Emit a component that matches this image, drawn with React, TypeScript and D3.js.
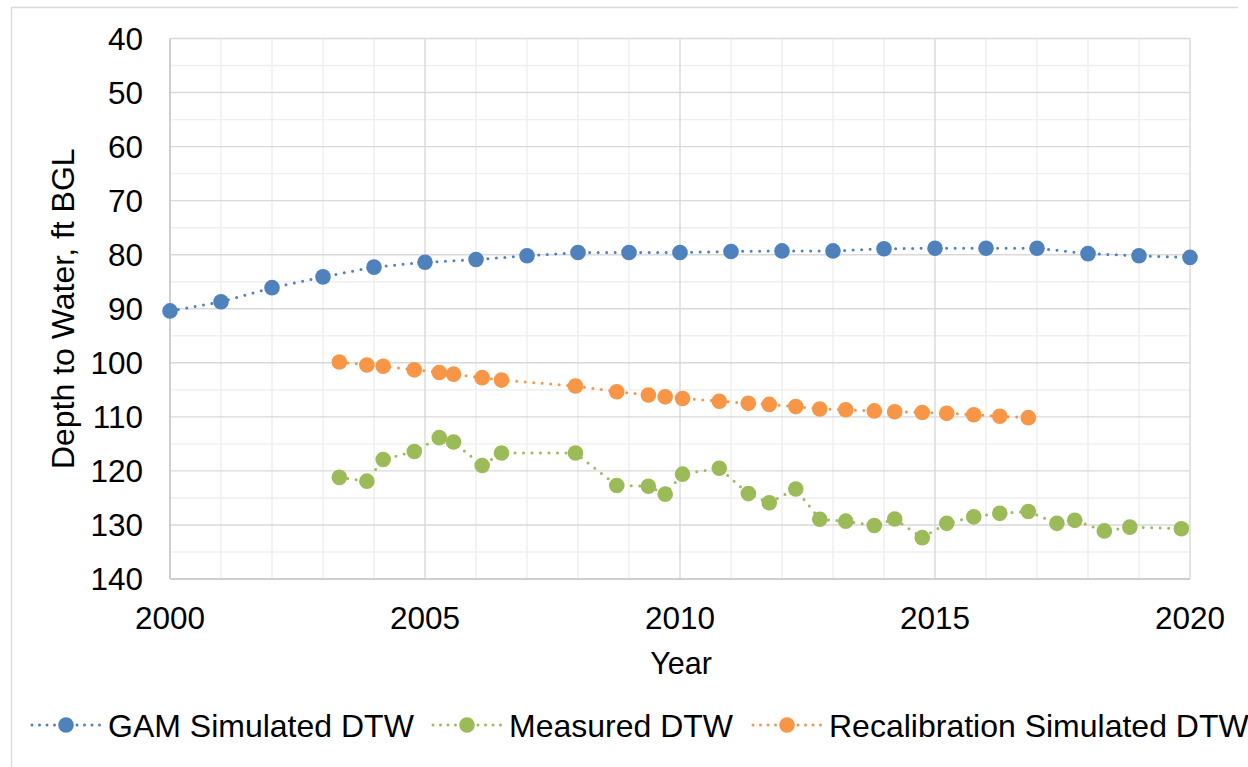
import React from "react";
import * as d3 from "d3";

const gamYears = [2000, 2001, 2002, 2003, 2004, 2005, 2006, 2007, 2008, 2009, 2010, 2011, 2012, 2013, 2014, 2015, 2016, 2017, 2018, 2019, 2020];
const gamDTW = [90.4, 88.7, 86.1, 84.1, 82.3, 81.4, 80.9, 80.2, 79.6, 79.6, 79.6, 79.4, 79.3, 79.3, 78.9, 78.8, 78.8, 78.8, 79.8, 80.2, 80.5];

const recalDates = [2003.32, 2003.86, 2004.18, 2004.79, 2005.28, 2005.56, 2006.12, 2006.5, 2007.95, 2008.76, 2009.38, 2009.71, 2010.05, 2010.77, 2011.34, 2011.75, 2012.27, 2012.74, 2013.25, 2013.81, 2014.21, 2014.75, 2015.23, 2015.76, 2016.27, 2016.83];
const recalDTW = [99.85, 100.4, 100.65, 101.3, 101.8, 102.1, 102.75, 103.2, 104.3, 105.35, 105.95, 106.3, 106.6, 107.1, 107.5, 107.7, 108.1, 108.55, 108.7, 108.9, 109.05, 109.2, 109.35, 109.6, 109.9, 110.15];

const measuredDates = [2003.32, 2003.86, 2004.18, 2004.79, 2005.28, 2005.56, 2006.12, 2006.5, 2007.95, 2008.76, 2009.38, 2009.71, 2010.05, 2010.77, 2011.34, 2011.75, 2012.27, 2012.74, 2013.25, 2013.81, 2014.21, 2014.75, 2015.23, 2015.76, 2016.27, 2016.83, 2017.39, 2017.74, 2018.32, 2018.82, 2019.83];
const measuredDTW = [121.2, 121.9, 117.9, 116.4, 113.85, 114.65, 119.0, 116.7, 116.7, 122.7, 122.85, 124.3, 120.6, 119.5, 124.2, 125.9, 123.35, 128.95, 129.3, 130.1, 128.9, 132.35, 129.7, 128.5, 127.85, 127.5, 129.7, 129.15, 131.1, 130.4, 130.7];

const xTicks = [2000, 2005, 2010, 2015, 2020];
const yTicks = [40, 50, 60, 70, 80, 90, 100, 110, 120, 130, 140];
const seriesNames = ["GAM Simulated DTW", "Measured DTW", "Recalibration Simulated DTW"];
const seriesColors = ["#4f81bd", "#9bbb59", "#f79646"];

const FONT = "'Liberation Sans', Arial, sans-serif";

export default function App() {
  const W = 1248, H = 767;
  const x = d3.scaleLinear().domain([2000, 2020]).range([170, 1190]);
  const y = d3.scaleLinear().domain([40, 140]).range([38.5, 579]);

  const minorX = d3.range(2000, 2021, 1).filter((v) => v % 5 !== 0);
  const minorY = d3.range(45, 140, 10);

  const series = [
    { xs: gamYears, ys: gamDTW },
    { xs: measuredDates, ys: measuredDTW },
    { xs: recalDates, ys: recalDTW },
  ];

  const line = d3
    .line<[number, number]>()
    .x((d) => x(d[0]))
    .y((d) => y(d[1]));

  const legendX = [31, 432, 752];
  const R = 7.8;

  return (
    <svg width={W} height={H} style={{ position: "absolute", left: 0, top: 0, background: "#fff" }} fontFamily={FONT}>
      <rect x={0} y={0} width={W} height={H} fill="#fff" />
      <path d={`M11.5,${H} V7.5 H1238`} fill="none" stroke="#d9d9d9" strokeWidth={1.3} />
      {minorX.map((v) => (
        <line key={"mx" + v} x1={x(v)} x2={x(v)} y1={y(40)} y2={y(140)} stroke="#eeeeee" strokeWidth={1.4} />
      ))}
      {minorY.map((v) => (
        <line key={"my" + v} x1={x(2000)} x2={x(2020)} y1={y(v)} y2={y(v)} stroke="#eeeeee" strokeWidth={1.4} />
      ))}
      {xTicks.map((v) => (
        <line key={"gx" + v} x1={x(v)} x2={x(v)} y1={y(40)} y2={y(140)} stroke="#d9d9d9" strokeWidth={1.4} />
      ))}
      {yTicks.map((v) => (
        <line key={"gy" + v} x1={x(2000)} x2={x(2020)} y1={y(v)} y2={y(v)} stroke="#d9d9d9" strokeWidth={1.4} />
      ))}
      <line x1={x(2000)} x2={x(2000)} y1={y(40)} y2={y(140)} stroke="#c8c8c8" strokeWidth={1.5} />
      <line x1={x(2000)} x2={x(2020)} y1={y(140)} y2={y(140)} stroke="#c8c8c8" strokeWidth={1.5} />
      {yTicks.map((v) => (
        <text key={"ty" + v} x={143} y={y(v) + 11.2} textAnchor="end" fontSize={31.5} fill="#000">
          {v}
        </text>
      ))}
      {xTicks.map((v) => (
        <text key={"tx" + v} x={x(v)} y={629} textAnchor="middle" fontSize={31.5} fill="#000">
          {v}
        </text>
      ))}
      <text x={681} y={674} textAnchor="middle" fontSize={30.5} fill="#000">
        Year
      </text>
      <text transform={`translate(74,${(y(40) + y(140)) / 2}) rotate(-90)`} textAnchor="middle" fontSize={32} fill="#000">
        Depth to Water, ft BGL
      </text>
      {series.map((s, i) => {
        const pts: [number, number][] = s.xs.map((t, k) => [t, s.ys[k]]);
        return (
          <g key={"s" + i}>
            <path d={line(pts) || ""} fill="none" stroke={seriesColors[i]} strokeWidth={3} strokeDasharray="0 8.5" strokeLinecap="round" />
            {pts.map((p, k) => (
              <circle key={k} cx={x(p[0])} cy={y(p[1])} r={R} fill={seriesColors[i]} />
            ))}
          </g>
        );
      })}
      {seriesNames.map((name, i) => (
        <g key={"lg" + i} transform={`translate(${legendX[i]},725)`}>
          <line x1={1} x2={69} y1={0} y2={0} stroke={seriesColors[i]} strokeWidth={3} strokeDasharray="0 7.5" strokeLinecap="round" />
          <circle cx={35} cy={0} r={R} fill={seriesColors[i]} />
          <text x={77} y={11.5} fontSize={32} fill="#000">
            {name}
          </text>
        </g>
      ))}
    </svg>
  );
}
